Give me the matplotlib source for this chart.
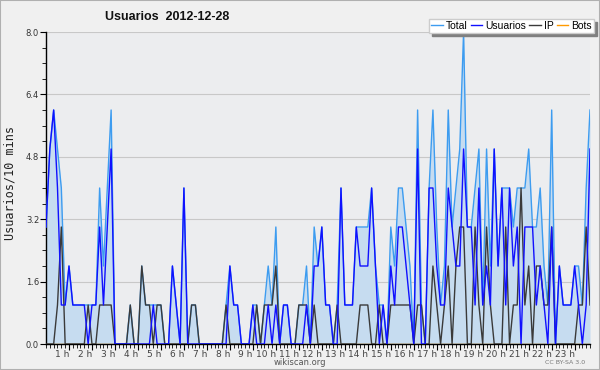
import numpy as np
import matplotlib
matplotlib.use("Agg")
import matplotlib.pyplot as plt
from matplotlib.patches import Rectangle

title = "Usuarios  2012-12-28"
ylabel = "Usuarios/10 mins"
series_names = ["Total", "Usuarios", "IP", "Bots"]
hour_labels = [f"{h} h" for h in range(1, 24)]
y_ticks = [0.0, 1.6, 3.2, 4.8, 6.4, 8.0]

usuarios = [3, 5, 6, 4, 1, 1, 2, 1, 1, 1, 1, 0, 1, 1, 3, 1, 3, 5, 0, 0,
            0, 0, 0, 0, 0, 0, 0, 0, 1, 0, 0, 0, 0, 2, 1, 0, 4, 0, 0, 0,
            0, 0, 0, 0, 0, 0, 0, 0, 2, 1, 1, 0, 0, 0, 1, 0, 0, 0, 1, 0,
            1, 0, 1, 1, 0, 0, 0, 0, 1, 0, 2, 2, 3, 1, 1, 0, 0, 4, 1, 1,
            1, 3, 2, 2, 2, 4, 2, 0, 1, 0, 2, 1, 3, 3, 2, 1, 0, 5, 0, 0,
            4, 4, 2, 1, 1, 4, 3, 2, 2, 5, 3, 3, 1, 4, 1, 2, 1, 5, 2, 4,
            1, 4, 2, 3, 0, 3, 3, 3, 1, 2, 1, 0, 3, 0, 2, 1, 1, 1, 2, 1,
            0, 1, 5]
ip = [0, 0, 0, 1, 3, 0, 0, 0, 0, 0, 0, 1, 0, 0, 1, 1, 1, 1, 0, 0,
      0, 0, 1, 0, 0, 2, 1, 1, 0, 1, 1, 0, 0, 0, 0, 0, 0, 0, 1, 1,
      0, 0, 0, 0, 0, 0, 0, 1, 0, 0, 0, 0, 0, 0, 0, 1, 0, 1, 1, 1,
      2, 0, 0, 0, 0, 0, 1, 1, 1, 0, 1, 0, 0, 0, 0, 0, 1, 0, 0, 0,
      0, 0, 1, 1, 1, 0, 0, 1, 0, 0, 1, 1, 1, 1, 1, 1, 0, 1, 1, 0,
      0, 2, 1, 0, 1, 2, 0, 2, 3, 3, 0, 0, 3, 1, 0, 3, 1, 0, 0, 0,
      3, 0, 1, 1, 4, 1, 2, 0, 2, 2, 1, 1, 3, 0, 0, 0, 0, 0, 0, 1,
      1, 3, 1]
bots = [0] * len(usuarios)
total = [u + i + b for u, i, b in zip(usuarios, ip, bots)]

c_total = "#3d9cf0"
c_fill = "#c6dcf0"
c_users = "#1010ff"
c_ip = "#3a3a3a"
c_bots = "#ff9a00"

narrow = ["Liberation Sans Narrow", "Liberation Sans", "DejaVu Sans"]

fig = plt.figure(figsize=(6.0, 3.7), dpi=100, facecolor="#f0f0f0")
fig.patches.append(Rectangle((0, 0), 1, 1, transform=fig.transFigure,
                             fill=False, edgecolor="#b0b0b0", linewidth=1.5))

W, H = 600.0, 370.0
x0, x1, ytop, ybot = 46, 590, 32, 344
ax = fig.add_axes([x0 / W, 1 - ybot / H, (x1 - x0) / W, (ybot - ytop) / H])
ax.set_facecolor("#ecedef")

x = np.arange(len(total))
ax.fill_between(x, 0, total, color=c_fill, linewidth=0, zorder=1)
ax.plot(x, bots, color=c_bots, lw=1.0, zorder=2)
ax.plot(x, total, color=c_total, lw=1.0, zorder=3)
ax.plot(x, ip, color=c_ip, lw=1.0, zorder=4)
ax.plot(x, usuarios, color=c_users, lw=1.0, zorder=5)

ax.set_xlim(0, len(total) - 1)
ax.set_ylim(0, 8)
ax.set_yticks(y_ticks)
ax.set_yticklabels([f"{v:.1f}" for v in y_ticks], fontsize=6, color="#333333")
ax.set_yticks(np.arange(0, 8.01, 0.4), minor=True)
ax.grid(axis="y", which="major", color="#c8c8c8", lw=0.8, zorder=0)
ax.set_axisbelow(True)

ax.set_xticks(np.arange(0, len(total), 1), minor=True)
ax.set_xticks([6 * h for h in range(1, 24)])
ax.set_xticklabels(hour_labels, fontsize=6.5, color="#444444", ha="right")
ax.tick_params(axis="x", which="major", length=4, width=0.8, pad=0)
ax.tick_params(axis="x", which="minor", length=3, width=0.6)
ax.tick_params(axis="y", which="major", length=4, width=0.8, pad=1)
ax.tick_params(axis="y", which="minor", length=3, width=0.6)

for s in ["top", "right"]:
    ax.spines[s].set_visible(False)
ax.spines["left"].set_linewidth(1.0)
ax.spines["bottom"].set_linewidth(1.0)

fig.text(105 / W, 1 - 17 / H, title, fontsize=9, fontweight="bold",
         va="center", ha="left", color="#111111", family=narrow)
fig.text(10 / W, 1 - 183 / H, ylabel, fontsize=8.5, rotation=90,
         va="center", ha="center", family="DejaVu Sans Mono", color="#222222")
fig.text(300 / W, 1 - 362.5 / H, "wikiscan.org", fontsize=6, ha="center",
         va="center", color="#555555")
fig.text(565 / W, 1 - 363 / H, "CC BY-SA 3.0", fontsize=4.5, ha="center",
         va="center", color="#777777")

handles = [plt.Line2D([], [], color=c, lw=1.0) for c in [c_total, c_users, c_ip, c_bots]]
leg = fig.legend(handles, series_names, loc="upper right",
                 bbox_to_anchor=(594 / W, 1 - 19 / H), ncol=4,
                 frameon=True, fancybox=False, shadow={"color": "#808080", "alpha": 1.0},
                 edgecolor="#cccccc", handlelength=1.1, handletextpad=0.3,
                 columnspacing=0.3, borderpad=0.2, borderaxespad=0,
                 prop={"family": narrow, "size": 7.5})
leg.get_frame().set_facecolor("white")
leg.set_zorder(10)

fig.savefig("out.png", dpi=100, facecolor=fig.get_facecolor())
